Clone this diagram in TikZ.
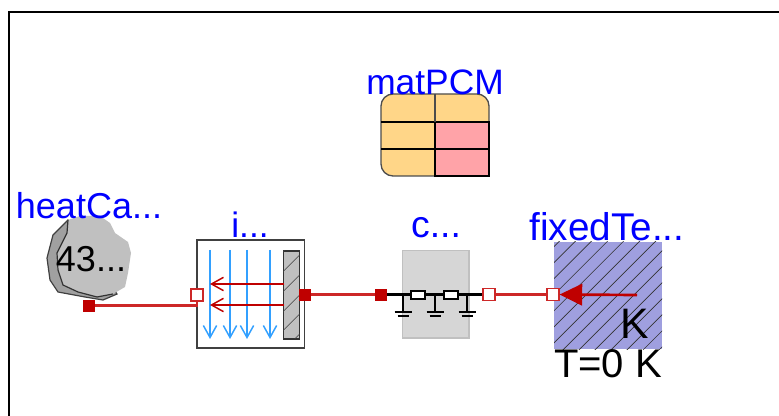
\documentclass[tikz,border=0pt]{standalone}
\usepackage{fontspec}
\setmainfont{Liberation Sans}
\usetikzlibrary{arrows.meta,patterns.meta}
\definecolor{wirered}{RGB}{191,0,0}
\definecolor{wirelight}{RGB}{205,40,40}
\definecolor{rayblue}{RGB}{50,160,255}
\definecolor{labelblue}{RGB}{0,0,255}
\definecolor{tablegold}{RGB}{255,214,136}
\definecolor{tablepink}{RGB}{255,163,168}
\definecolor{rockgray}{RGB}{192,192,192}
\definecolor{rockdark}{RGB}{160,160,160}
\definecolor{tempblue}{RGB}{159,159,223}
\begin{document}
\begin{tikzpicture}[x=.75pt,y=-.75pt,line join=miter,
name label/.style={text=labelblue,font=\fontsize{26.5}{27}\selectfont,inner sep=0pt},
value label/.style={text=black,font=\fontsize{27}{27}\selectfont,inner sep=0pt},
red port/.style={rectangle,draw=wirered,fill=wirered,minimum size=8.4pt,inner sep=0pt},
white port/.style={rectangle,draw=wirelight,line width=1pt,fill=white,minimum size=8.8pt,inner sep=0pt},
wire/.style={draw=wirelight,line width=1.7pt},
small res/.style={rectangle,draw=black,line width=1.5pt,fill=white,minimum width=10pt,minimum height=5.5pt,inner sep=0pt},
ray/.style={draw=rayblue,line width=1.1pt,-{Straight Barb[length=9pt,width=10pt]}},
back ray/.style={draw=wirered,line width=1.1pt,-{Straight Barb[length=9pt,width=10pt]}}]
\useasboundingbox (0,0) rectangle (779,416);
\draw[line width=2pt,black] (9,416) -- (9,12) -- (779,12);%frame
%heat capacitor
\draw[draw=black!75,fill=rockdark,line width=.9pt] (68,220) -- (53,235) -- (47,258) -- (50,280) -- (58,292) -- (85,297) -- (103,300) -- (117,294) -- (100,270) -- cycle;
\fill[rockgray] (68,220) -- (80,216) -- (100,216) -- (110,223) -- (115,233) -- (128,242) -- (131,253) -- (128,273) -- (125,287) -- (113,294) -- (97,297) -- (78,292) -- (63,285) -- (58,270) -- (57,253) -- (67,233) -- cycle;
\draw[black!80,line width=.9pt] (68,220) -- (67,233) -- (57,253) -- (58,270) -- (63,285) -- (78,292) -- (97,297) -- (113,294);
%table
\fill[tablegold,rounded corners=9pt] (381,94) -- (489,94) -- (489,130) -- (435,176) -- (381,176) -- cycle;
\fill[tablegold] (435,122) rectangle (489,110);
\fill[tablegold] (420,120) rectangle (435,176);
\fill[tablepink] (435,122) rectangle (489,176);
\draw[black!70,line width=1pt,rounded corners=9pt] (435,176) -- (381,176) -- (381,94) -- (489,94) -- (489,122);
\draw[black,line width=1.2pt] (381,122) -- (489,122) -- (489,176) -- (435,176) -- (435,122);
\draw[black,line width=1.2pt] (381,149) -- (489,149);
\draw[black!70,line width=1pt] (435,94) -- (435,122);
%internal box
\node[rectangle,draw=black!75,line width=1pt,fill=white,minimum width=80.5pt,minimum height=81pt,inner sep=0pt] (boxRad) at (250.5,294) {};
\node[rectangle,draw=black!80,line width=.9pt,minimum width=12.5pt,minimum height=66pt,inner sep=0pt,fill=rockgray,postaction={pattern={Lines[angle=45,distance=10.5pt,line width=.6pt]},pattern color=black!75}] (wallRad) at (291.5,295) {};
%collector
\node[rectangle,draw=rockgray,line width=1pt,fill=black!16,minimum width=50pt,minimum height=65.5pt,inner sep=0pt] (boxCon) at (435.5,294.5) {};
%fixed temperature
\node[rectangle,fill=tempblue,minimum width=81pt,minimum height=80.5pt,inner sep=0pt,postaction={pattern={Lines[angle=45,distance=8.5pt,line width=.5pt]},pattern color=black!80}] (boxTemp) at (608,295.5) {};
\begin{scope}[every node/.style={inner sep=0pt,minimum size=0pt}]
\coordinate (rayTop1) at (210,250);
\coordinate (rayEnd1) at (210,339);
\coordinate (rayTop2) at (230,250);
\coordinate (rayEnd2) at (230,339);
\coordinate (rayTop3) at (247,250);
\coordinate (rayEnd3) at (247,339);
\coordinate (rayTop4) at (270,250);
\coordinate (rayEnd4) at (270,339);
\coordinate (backA) at (284,284);
\coordinate (backB) at (284,305);
\coordinate (backEndA) at (210,284);
\coordinate (backEndB) at (210,305);
\coordinate (arrowStart) at (637,295);
\coordinate (gnd1) at (403,295);
\coordinate (gnd2) at (435,295);
\coordinate (gnd3) at (467,295);
\coordinate (gndEnd1) at (403,312);
\coordinate (gndEnd2) at (435,312);
\coordinate (gndEnd3) at (467,312);
\end{scope}
\foreach \i in {1,2,3,4}
  \draw[ray] (rayTop\i) -- (rayEnd\i);
\draw[back ray] (backA) -- (backEndA);
\draw[back ray] (backB) -- (backEndB);
%ports
\node[red port] (v1) at (89,305.5) {};%heat
\node[white port] (v2) at (197,295) {};%in
\node[red port] (v3) at (305,294.5) {};%wall
\node[red port] (v4) at (381,294.5) {};%con left
\node[white port] (v5) at (489,294.5) {};%con right
\node[white port] (v6) at (553,294.5) {};%temp
%wires
\draw[wire] (v1) -- (v1 -| v2) -- (v2);
\draw[wire] (v3) -- (v4);
\draw[wire] (v5) -- (v6);
%resistors and grounds
\draw[black,line width=1.7pt] (v4) -- (v5);
\node[small res] (r1) at (418,295) {};
\node[small res] (r2) at (451,295) {};
\foreach \i in {1,2,3}{
  \draw[black,line width=1.7pt] (gnd\i) -- (gndEnd\i);
  \draw[black,line width=1.7pt] ([xshift=-8.5*.75pt]gndEnd\i) -- ([xshift=8.5*.75pt]gndEnd\i);
  \draw[black,line width=1.3pt] ([xshift=-5.5*.75pt,yshift=-4*.75pt]gndEnd\i) -- ([xshift=5.5*.75pt,yshift=-4*.75pt]gndEnd\i);
}
\draw[wirered,line width=2pt,-{Triangle[length=17pt,width=16pt]}] (arrowStart) -- (v6);
%labels
\node[name label] (matName) at (435,82) {matPCM};
\node[name label,font=\fontsize{27}{27}\selectfont] (capName) at (89,206) {heatCa...};
\node[name label] (boxName) at (250,225) {i...};
\node[name label,font=\fontsize{28}{28}\selectfont] (conName) at (436,228) {c...};
\node[name label,font=\fontsize{29}{29}\selectfont] (tempName) at (607,227) {fixedTe...};
\node[value label] (capValue) at (91,259) {43...};
\node[value label,font=\fontsize{32}{32}\selectfont] (tempK) at (635,324) {K};
\node[value label,font=\fontsize{30}{30}\selectfont] (tempT) at (608,364) {T=0 K};
\end{tikzpicture}
\end{document}
